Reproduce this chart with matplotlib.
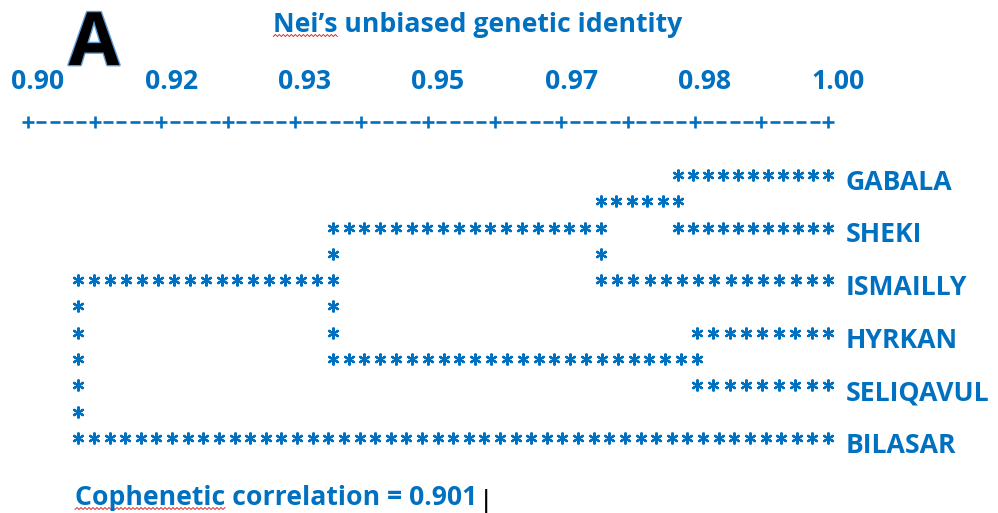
import numpy as np
import matplotlib.pyplot as plt
import matplotlib.patheffects as pe

BLUE = "#0070C0"
FONT = "Open Sans"

# leaves, top to bottom
leaves = ["GABALA", "SHEKI", "ISMAILLY", "HYRKAN", "SELIQAVUL", "BILASAR"]
merge_left = [0, 3, 6, 8, 9]
merge_right = [1, 4, 2, 7, 5]
merge_identity = [0.9813, 0.9836, 0.9716, 0.9381, 0.9063]

scale_min, scale_max = 0.90, 1.00
scale_labels = ["0.90", "0.92", "0.93", "0.95", "0.97", "0.98", "1.00"]
coph_corr = 0.901

# text-dendrogram layout (rows are character lines, leaves every 2nd line)
STEP = 0.00196
ROW_RULER = -2.015
ROW_SCALE = -3.27
FS = 19.2
W, H = 998, 513

fig = plt.figure(figsize=(W / 100, H / 100), dpi=100)
ax = fig.add_axes([0, 0, 1, 1])
ax.set_xlim(0.8965, 1.02125)
ax.set_ylim(12.852, -6.654)
ax.axis("off")

# build star positions from the merges
height = {i: scale_max for i in range(len(leaves))}
row = {i: 2 * i for i in range(len(leaves))}
stars = set()


def hline(r, x0, x1):
    n = int(round(abs(x1 - x0) / STEP)) + 1
    for x in np.linspace(x0, x1, n):
        stars.add((round(x, 5), r))


for k, (a, b, h) in enumerate(zip(merge_left, merge_right, merge_identity)):
    node = len(leaves) + k
    for c in (a, b):
        hline(row[c], h, height[c])
    r0, r1 = sorted((row[a], row[b]))
    for r in range(r0, r1 + 1):
        stars.add((round(h, 5), r))
    height[node] = h
    row[node] = (row[a] + row[b]) // 2

sx, sy = zip(*sorted(stars))
ax.plot(sx, sy, ls="none", marker=(6, 2, 0), ms=8.5, mew=1.6, color=BLUE)

# leaf names
for i, name in enumerate(leaves):
    ax.text(scale_max + 0.0022, row[i] + 0.56, name, ha="left", va="baseline",
            fontsize=FS, fontweight="bold", family=FONT, color=BLUE)

# ruler  +----+----+ ...
ticks = np.linspace(scale_min, scale_max, 13)
ax.plot(ticks, [ROW_RULER] * len(ticks), ls="none", marker="+", ms=9,
        mew=1.9, color=BLUE)
gap = ticks[1] - ticks[0]
dashes = [t + gap * j / 5 for t in ticks[:-1] for j in range(1, 5)]
ax.plot(dashes, [ROW_RULER] * len(dashes), ls="none", marker="_", ms=6.5,
        mew=1.9, color=BLUE)
for t, lab in zip(ticks[::2], scale_labels):
    ax.text(t + 0.00125, ROW_SCALE, lab, ha="center", va="baseline",
            fontsize=FS, fontweight="bold", family=FONT, color=BLUE)

# titles
title = fig.text(478 / W, 1 - 32 / H, "Nei\u2019s unbiased genetic identity",
                 ha="center", va="baseline", fontsize=FS, fontweight="bold",
                 family=FONT, color=BLUE)
fig.text(94 / W, 1 - 65 / H, "A", ha="center", va="baseline",
         fontsize=53, fontweight="bold", family=FONT, color="black",
         path_effects=[pe.withStroke(linewidth=2, foreground="#5B9BD5")])
coph = fig.text(75 / W, 1 - 505 / H, f"Cophenetic correlation = {coph_corr}",
                ha="left", va="baseline", fontsize=FS, fontweight="bold",
                family=FONT, color=BLUE)
fig.text(482 / W, 1 - 508 / H, "|", ha="left", va="baseline",
         fontsize=18, family="DejaVu Sans", color="black")

# red spell-check squiggles under the first word
fig.canvas.draw()
renderer = fig.canvas.get_renderer()
for txt, word, base in [(title, "Nei\u2019s", 32), (coph, "Cophenetic", 505)]:
    x0 = txt.get_window_extent(renderer).x0
    tmp = fig.text(0, 0, word, fontsize=FS, fontweight="bold", family=FONT)
    w = tmp.get_window_extent(renderer).width
    tmp.remove()
    xs = np.arange(x0, x0 + w, 2.0)
    ys = H - base - 3.5 + np.where(np.arange(len(xs)) % 2, 1.0, -1.0)
    fig.add_artist(plt.Line2D(xs / W, ys / H, transform=fig.transFigure,
                              color="#E03030", lw=0.7))

fig.savefig("out.png", dpi=100)
